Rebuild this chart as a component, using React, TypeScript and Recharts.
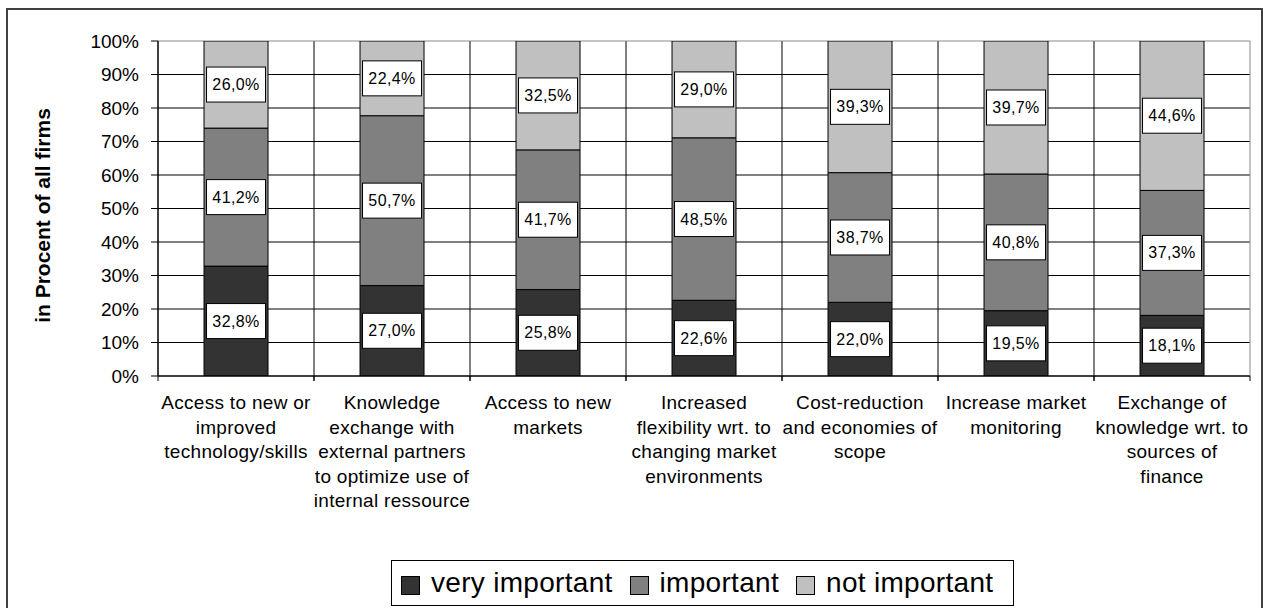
import React from 'react';
import { BarChart, Bar, XAxis, YAxis, CartesianGrid, LabelList } from 'recharts';

// Motives for cooperation, share of firms per rating
const categories = [
  'Access to new or improved technology/skills',
  'Knowledge exchange with external partners to optimize use of internal ressource',
  'Access to new markets',
  'Increased flexibility wrt. to changing market environments',
  'Cost-reduction and economies of scope',
  'Increase market monitoring',
  'Exchange of knowledge wrt. to sources of finance',
];

const categoryLines = [
  ['Access to new or', 'improved', 'technology/skills'],
  ['Knowledge', 'exchange with', 'external partners', 'to optimize use of', 'internal ressource'],
  ['Access to new', 'markets'],
  ['Increased', 'flexibility wrt. to', 'changing market', 'environments'],
  ['Cost-reduction', 'and economies of', 'scope'],
  ['Increase market', 'monitoring'],
  ['Exchange of', 'knowledge wrt. to', 'sources of', 'finance'],
];

const veryImportant = [32.8, 27.0, 25.8, 22.6, 22.0, 19.5, 18.1];
const important = [41.2, 50.7, 41.7, 48.5, 38.7, 40.8, 37.3];
const notImportant = [26.0, 22.4, 32.5, 29.0, 39.3, 39.7, 44.6];

const yTicks = [0, 10, 20, 30, 40, 50, 60, 70, 80, 90, 100];

const seriesKeys = ['veryImportant', 'important', 'notImportant'];
const seriesNames = ['very important', 'important', 'not important'];
const seriesColors = ['#333333', '#808080', '#C0C0C0'];

const data = categories.map((name, i) => ({
  name,
  veryImportant: veryImportant[i],
  important: important[i],
  notImportant: notImportant[i],
}));

const FONT = 'Arial, "Liberation Sans", sans-serif';

const fmt = (v: number) => `${v.toFixed(1).replace('.', ',')}%`;

// white boxed value label centred in each stacked segment
const SegmentLabel = (props: any) => {
  const vb = props.viewBox ?? props;
  const { x, y, width, height } = vb;
  const value = Number(props.value);
  if (x == null || !isFinite(value)) return null;
  const cx = x + width / 2;
  const cy = y + height / 2;
  const bw = width - 5;
  const bh = 35;
  return (
    <g>
      <rect x={cx - bw / 2} y={cy - bh / 2} width={bw} height={bh} fill="#fff" stroke="#000" strokeWidth={1} />
      <text
        x={cx}
        y={cy}
        textAnchor="middle"
        dominantBaseline="central"
        fontFamily={FONT}
        fontSize={16}
        letterSpacing={0.4}
        fill="#000"
      >
        {fmt(value)}
      </text>
    </g>
  );
};

const CategoryTick = (props: any) => {
  const { x, y, payload } = props;
  const idx = categories.indexOf(payload.value);
  const lines = categoryLines[idx] ?? [payload.value];
  const half = payload.offset ?? 0;
  return (
    <g>
      {half > 0 && (
        <>
          <line x1={x - half} x2={x - half} y1={y} y2={y + 5} stroke="#000" />
          <line x1={x + half} x2={x + half} y1={y} y2={y + 5} stroke="#000" />
        </>
      )}
      <text textAnchor="middle" fontFamily={FONT} fontSize={19} letterSpacing={0.3} fill="#000">
        {lines.map((l, i) => (
          <tspan key={i} x={x} y={y + 33 + i * 24.5}>
            {l}
          </tspan>
        ))}
      </text>
    </g>
  );
};

const YTitle = (props: any) => {
  const vb = props.viewBox;
  const x = vb.x + 42;
  const y = vb.y + vb.height / 2 + 7;
  return (
    <text
      x={x}
      y={y}
      transform={`rotate(-90, ${x}, ${y})`}
      textAnchor="middle"
      dominantBaseline="central"
      fontFamily={FONT}
      fontWeight="bold"
      fontSize={21}
      fill="#000"
    >
      in Procent of all firms
    </text>
  );
};

export default function App() {
  return (
    <div style={{ position: 'absolute', left: 0, top: 0, width: 1263, height: 608, overflow: 'hidden', background: '#fff' }}>
      <div
        style={{
          position: 'absolute',
          left: 6,
          top: 8,
          width: 1257,
          height: 610,
          boxSizing: 'border-box',
          border: '2px solid #404040',
        }}
      />
      <div style={{ position: 'absolute', left: 0, top: 0 }}>
        <BarChart
          width={1263}
          height={608}
          data={data}
          margin={{ top: 41, right: 13, bottom: 0, left: 0 }}
          barCategoryGap="29.5%"
        >
          {/* inner grid: category separators and 0-90% lines */}
          <CartesianGrid
            stroke="#000"
            strokeWidth={1}
            horizontalCoordinatesGenerator={({ offset }: any) =>
              yTicks.filter((t) => t < 100).map((t) => offset.top + offset.height * (1 - t / 100))
            }
            verticalCoordinatesGenerator={({ offset }: any) =>
              categories.map((_, i) => offset.left + (offset.width * i) / categories.length)
            }
          />
          {/* lighter plot border on top and right */}
          <CartesianGrid
            stroke="#8a8a8a"
            strokeWidth={1}
            horizontalCoordinatesGenerator={({ offset }: any) => [offset.top]}
            verticalCoordinatesGenerator={({ offset }: any) => [offset.left + offset.width]}
          />
          <XAxis
            dataKey="name"
            height={232}
            interval={0}
            axisLine={{ stroke: '#000' }}
            tickLine={false}
            tickSize={0}
            tickMargin={0}
            tick={<CategoryTick />}
          />
          <YAxis
            width={158}
            domain={[0, 100]}
            allowDataOverflow
            ticks={yTicks}
            interval={0}
            tickFormatter={(v) => `${v}%`}
            axisLine={{ stroke: '#000' }}
            tickLine={{ stroke: '#000' }}
            tickSize={7}
            tickMargin={12}
            tick={{ fill: '#000', fontSize: 19, fontFamily: FONT }}
            label={YTitle}
          />
          {seriesKeys.map((key, i) => (
            <Bar
              key={key}
              dataKey={key}
              name={seriesNames[i]}
              stackId="a"
              fill={seriesColors[i]}
              stroke="#000"
              strokeWidth={1}
              isAnimationActive={false}
            >
              <LabelList dataKey={key} content={<SegmentLabel />} />
            </Bar>
          ))}
        </BarChart>
      </div>

      <div
        style={{
          position: 'absolute',
          left: 391,
          top: 560,
          width: 623,
          height: 46,
          boxSizing: 'border-box',
          border: '1px solid #000',
          display: 'flex',
          alignItems: 'center',
          paddingLeft: 9,
          fontFamily: FONT,
          fontSize: 28,
          letterSpacing: 0.3,
          color: '#000',
          whiteSpace: 'nowrap',
        }}
      >
        {seriesNames.map((n, i) => (
          <div key={n} style={{ display: 'flex', alignItems: 'center', marginRight: 17 }}>
            <div
              style={{
                width: 19,
                height: 19,
                boxSizing: 'border-box',
                background: seriesColors[i],
                border: '1px solid #000',
                marginRight: 11,
                marginTop: 4,
              }}
            />
            <span>{n}</span>
          </div>
        ))}
      </div>
    </div>
  );
}
